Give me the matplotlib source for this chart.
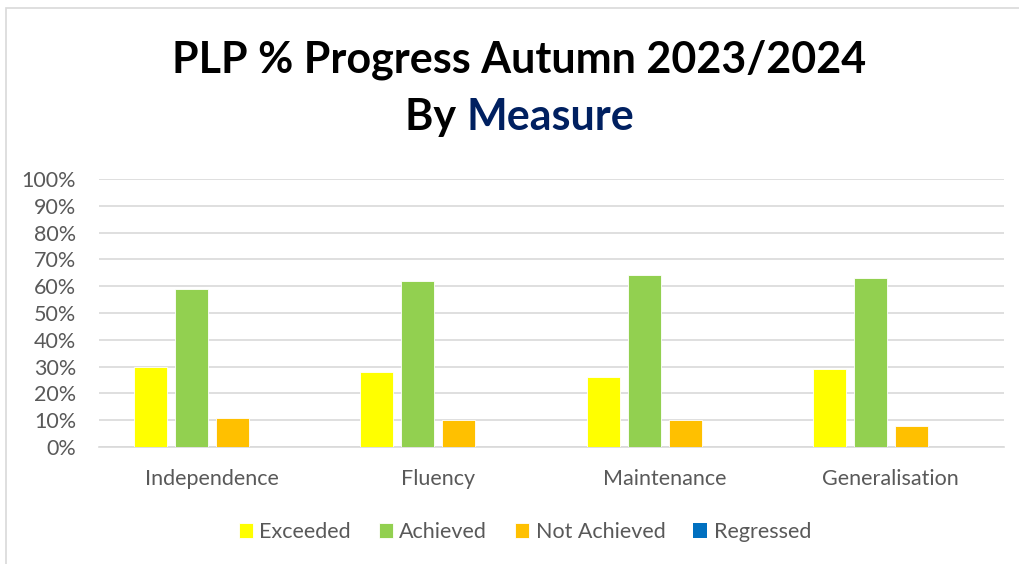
import numpy as np
import matplotlib.pyplot as plt
from matplotlib.patches import Rectangle

# Data (% of PLP targets)
measures = ['Independence', 'Fluency', 'Maintenance', 'Generalisation']
series_names = ['Exceeded', 'Achieved', 'Not Achieved', 'Regressed']
exceeded = [30, 28, 26, 29]
achieved = [59, 62, 64, 63]
not_achieved = [11, 10, 10, 8]
regressed = [0, 0, 0, 0]
colors = ['#FFFF00', '#92D050', '#FFC000', '#0070C0']

plt.rcParams['font.family'] = ['Lato', 'DejaVu Sans']

fig = plt.figure(figsize=(10.2, 5.64), dpi=100)

# light frame of the chart area (cut off at right and bottom)
fig.patches.append(Rectangle((6 / 1020, -0.1), 1.2, (564 - 8) / 564 + 0.1,
                             transform=fig.transFigure, fill=False,
                             edgecolor='#d9d9d9', linewidth=1.2))

ax = fig.add_axes([99 / 1020, (564 - 447) / 564, 905 / 1020, 268 / 564])

x = np.arange(len(measures))
width = 0.146
step = 0.181
for i, (vals, name) in enumerate(zip([exceeded, achieved, not_achieved, regressed], series_names)):
    ax.bar(x + (i - 1.5) * step, vals, width, color=colors[i], label=name,
           edgecolor='white', linewidth=0.6 if any(vals) else 0, zorder=3)

ax.set_xlim(-0.5, 3.5)
ax.set_ylim(0, 100)
ax.set_yticks(np.arange(0, 101, 10))
ax.set_yticklabels([f'{v}%' for v in range(0, 101, 10)])
ax.set_xticks(x)
ax.set_xticklabels(measures)
ax.yaxis.grid(True, color='#d9d9d9', linewidth=1.2, zorder=0)
ax.tick_params(axis='both', length=0, labelsize=15.5, labelcolor='#595959')
ax.tick_params(axis='y', pad=16.5)
ax.tick_params(axis='x', pad=16)
for s in ['top', 'right', 'left']:
    ax.spines[s].set_visible(False)
ax.spines['bottom'].set_color('#d9d9d9')
ax.spines['bottom'].set_linewidth(1.2)

# Title, second line partly coloured
fig.text(519.5 / 1020, 1 - 73 / 564, 'PLP % Progress Autumn 2023/2024', ha='center',
         va='baseline', fontsize=31, fontweight='bold', color='black')
t1 = fig.text(0.5, 1 - 130 / 564, 'By ', ha='left', va='baseline',
              fontsize=31, fontweight='bold', color='black')
t2 = fig.text(0.5, 1 - 130 / 564, 'Measure', ha='left', va='baseline',
              fontsize=31, fontweight='bold', color='#002060')
fig.canvas.draw()
w1 = t1.get_window_extent().width
w2 = t2.get_window_extent().width
start = 519.5 - (w1 + w2) / 2
t1.set_x(start / 1020)
t2.set_x((start + w1) / 1020)

leg = fig.legend(loc='center', bbox_to_anchor=(525 / 1020, 1 - 532 / 564), ncol=4,
                 frameon=False, fontsize=15.5, handlelength=0.65, handleheight=0.65,
                 handletextpad=0.3, columnspacing=1.3)
for t in leg.get_texts():
    t.set_color('#595959')

fig.savefig('out.png', dpi=100)
